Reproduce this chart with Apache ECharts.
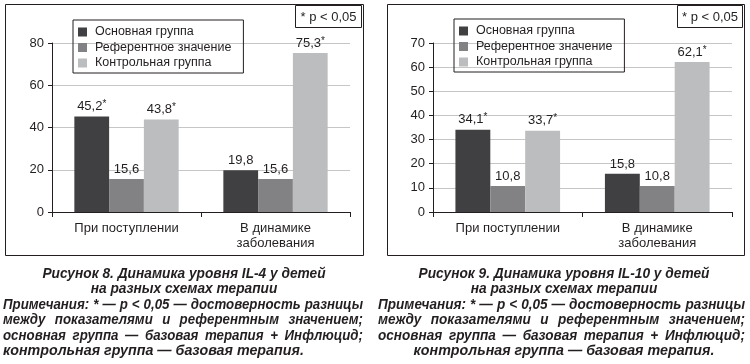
<!DOCTYPE html>
<html><head><meta charset="utf-8">
<script src="https://cdn.jsdelivr.net/npm/echarts@6/dist/echarts.min.js"></script>
<style>html,body{margin:0;padding:0;background:#fff}#c{width:750px;height:364px}</style>
</head><body><div id="c"></div>
<script>
// ---- data ----
var categories = ['При поступлении', 'В динамике\nзаболевания'];
var seriesNames = ['Основная группа', 'Референтное значение', 'Контрольная группа'];
// IL-4 (Рисунок 8)
var il4Main = [45.2, 19.8];
var il4Ref = [15.6, 15.6];
var il4Control = [43.8, 75.3];
var il4MainStar = [true, false];
var il4RefStar = [false, false];
var il4ControlStar = [true, true];
var il4Ticks = {min: 0, max: 80, interval: 20};
// IL-10 (Рисунок 9)
var il10Main = [34.1, 15.8];
var il10Ref = [10.8, 10.8];
var il10Control = [33.7, 62.1];
var il10MainStar = [true, false];
var il10RefStar = [false, false];
var il10ControlStar = [true, true];
var il10Ticks = {min: 0, max: 70, interval: 10};

var pNote = '* p < 0,05';
var caption8 = {
  title: ['Рисунок 8. Динамика уровня IL-4 у детей', 'на разных схемах терапии'],
  note: ['Примечания: * — p < 0,05 — достоверность разницы',
         'между показателями и референтным значением;',
         'основная группа — базовая терапия + Инфлюцид;',
         'контрольная группа — базовая терапия.']
};
var caption9 = {
  title: ['Рисунок 9. Динамика уровня IL-10 у детей', 'на разных схемах терапии'],
  note: ['Примечания: * — p < 0,05 — достоверность разницы',
         'между показателями и референтным значением;',
         'основная группа — базовая терапия + Инфлюцид;',
         'контрольная группа — базовая терапия.']
};

// ---- styles ----
var FONT = '"Liberation Sans", Arial, Helvetica, sans-serif';
var INK = '#231f20';
var colors = ['#404042', '#828284', '#bcbdbf'];

function fmt(stars) {
  return function (p) {
    var s = String(p.value).replace('.', ',');
    return stars[p.dataIndex] ? s + '{s|*}' : s;
  };
}
function bar(name, data, stars, idx, color) {
  return {
    name: name, type: 'bar', xAxisIndex: idx, yAxisIndex: idx,
    data: data, barGap: '0%', barCategoryGap: '30%',
    itemStyle: {color: color},
    label: {show: true, position: 'top', distance: 3, color: INK, fontSize: 13,
            fontFamily: FONT, formatter: fmt(stars),
            rich: {s: {fontSize: 10, color: INK, fontFamily: FONT, verticalAlign: 'top', padding: [0, 0, 4, 0]}}},
    emphasis: {disabled: true}, animation: false
  };
}
function xAxis(idx) {
  return {
    type: 'category', gridIndex: idx, data: categories,
    axisLine: {lineStyle: {color: INK, width: 1}},
    axisTick: {show: true, length: 5, lineStyle: {color: INK}},
    axisLabel: {color: INK, fontSize: 13, fontFamily: FONT, margin: 9, lineHeight: 15}
  };
}
function yAxis(idx, t) {
  return {
    type: 'value', gridIndex: idx, min: t.min, max: t.max, interval: t.interval,
    axisLine: {show: true, lineStyle: {color: INK, width: 1}},
    axisTick: {show: true, length: 4, lineStyle: {color: INK}},
    splitLine: {lineStyle: {color: '#c6c6c6', width: 1}},
    axisLabel: {color: INK, fontSize: 13, fontFamily: FONT, margin: 8}
  };
}
function legend(left, top) {
  return {
    orient: 'vertical', left: left, top: top, data: seriesNames,
    icon: 'rect', itemWidth: 9, itemHeight: 9, itemGap: 1.5,
    padding: [5, 12, 3, 5], borderColor: INK, borderWidth: 1, borderRadius: 0,
    selectedMode: false,
    textStyle: {color: INK, fontSize: 12.5, fontFamily: FONT, lineHeight: 14, padding: [0, 0, 0, 3]}
  };
}

// ---- caption layout helpers ----
var CFONT = 'italic bold 14px ' + FONT;
var mctx = document.createElement('canvas').getContext('2d');
function w(t) { mctx.font = CFONT; return mctx.measureText(t).width; }
function txt(t, x, y, align, sx) {
  return {type: 'text', x: x, y: y, scaleX: sx || 1, silent: true,
          style: {text: t, font: CFONT, fill: INK, align: align || 'left', verticalAlign: 'middle'}};
}
function wordsW(line) {
  return line.split(' ').map(w).reduce(function (a, b) { return a + b; }, 0);
}
function justify(line, x0, x1, y, sx) {
  var words = line.split(' ');
  var widths = words.map(function (t) { return w(t) * sx; });
  var total = widths.reduce(function (a, b) { return a + b; }, 0);
  var gap = (x1 - x0 - total) / (words.length - 1);
  var out = [], x = x0;
  for (var i = 0; i < words.length; i++) { out.push(txt(words[i], x, y, 'left', sx)); x += widths[i] + gap; }
  return out;
}
function caption(c, x0, x1, center, lastCentered) {
  var ys = [274, 289, 305, 320, 336, 351];
  // horizontal squeeze so that the widest note line fits with ~4px word gaps
  var first = c.note[0];
  var nGaps = first.split(' ').length - 1;
  var sx = Math.min(1, (x1 - x0 - nGaps * 4) / wordsW(first));
  var out = [txt(c.title[0], center, ys[0], 'center', 0.98), txt(c.title[1], center, ys[1], 'center', 0.98)];
  for (var i = 0; i < c.note.length; i++) {
    var y = ys[2 + i];
    if (i < c.note.length - 1) out = out.concat(justify(c.note[i], x0, x1, y, sx));
    else out.push(lastCentered ? txt(c.note[i], center, y, 'center', 1.02) : txt(c.note[i], x0, y, 'left', 1.02));
  }
  return out;
}
function frame(x, y, wd, h) {
  return {type: 'rect', silent: true, shape: {x: x, y: y, width: wd, height: h},
          style: {fill: null, stroke: INK, lineWidth: 1}};
}

var graphics = [
  frame(5.5, 4.5, 358, 251), frame(387.5, 4.5, 357, 251),
  frame(295.5, 5.5, 66, 22), frame(677.5, 5.5, 65, 22),
  {type: 'text', x: 328.5, y: 17, silent: true, style: {text: pNote, font: '13px ' + FONT, fill: INK, align: 'center', verticalAlign: 'middle'}},
  {type: 'text', x: 710, y: 17, silent: true, style: {text: pNote, font: '13px ' + FONT, fill: INK, align: 'center', verticalAlign: 'middle'}}
].concat(caption(caption8, 3, 363, 184, false)).concat(caption(caption9, 378, 745, 564, true));

var chart = echarts.init(document.getElementById('c'), null, {renderer: 'canvas'});
chart.setOption({
  backgroundColor: '#fff',
  animation: false,
  textStyle: {fontFamily: FONT},
  grid: [
    {left: 52, right: 400, top: 43, bottom: 152},
    {left: 433, right: 18, top: 43, bottom: 152}
  ],
  legend: [legend(73, 20), legend(454, 19)],
  xAxis: [xAxis(0), xAxis(1)],
  yAxis: [yAxis(0, il4Ticks), yAxis(1, il10Ticks)],
  series: [
    bar(seriesNames[0], il4Main, il4MainStar, 0, colors[0]),
    bar(seriesNames[1], il4Ref, il4RefStar, 0, colors[1]),
    bar(seriesNames[2], il4Control, il4ControlStar, 0, colors[2]),
    bar(seriesNames[0], il10Main, il10MainStar, 1, colors[0]),
    bar(seriesNames[1], il10Ref, il10RefStar, 1, colors[1]),
    bar(seriesNames[2], il10Control, il10ControlStar, 1, colors[2])
  ],
  graphic: graphics
});
</script></body></html>
